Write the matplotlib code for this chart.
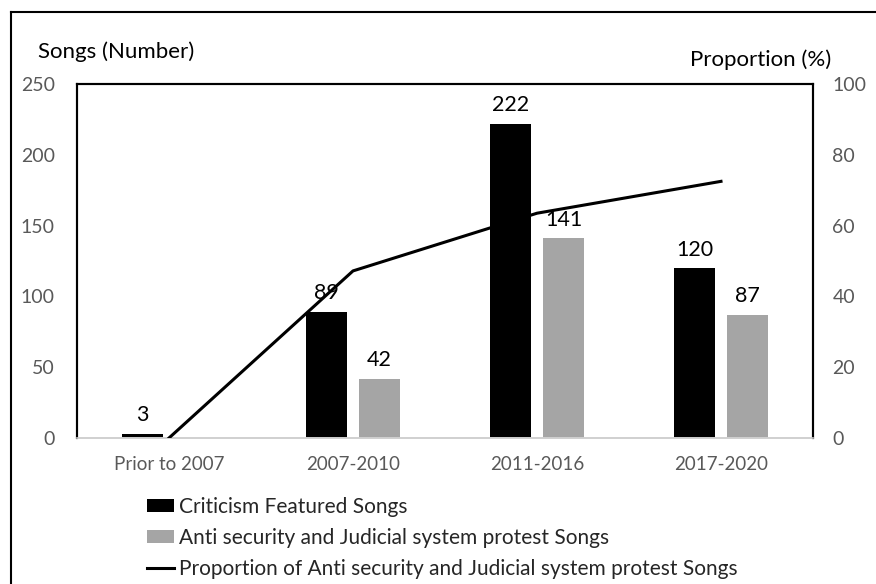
import numpy as np
import matplotlib
matplotlib.use('Agg')
import matplotlib.pyplot as plt
from matplotlib.lines import Line2D

plt.rcParams['font.family'] = ['Lato', 'DejaVu Sans']

periods = ['Prior to 2007', '2007-2010', '2011-2016', '2017-2020']
criticism = [3, 89, 222, 120]
anti_security = [0, 42, 141, 87]
proportion = [0, 47.2, 63.5, 72.5]

crit_labels = ['3', '89', '222', '120']
anti_labels = ['', '42', '141', '87']

fig = plt.figure(figsize=(8.76, 5.84), dpi=100)
W, H = 876, 584
ax = fig.add_axes([77/W, 1-438/H, (813-77)/W, (438-84)/H])
ax2 = ax.twinx()

x = np.arange(len(periods))
bw = 0.223
off = 0.144
ax.bar(x - off, criticism, bw, color='black', label='Criticism Featured Songs', zorder=2)
ax.bar(x + off, anti_security, bw, color='#a5a5a5', label='Anti security and Judicial system protest Songs', zorder=2)

for xi, v, t in zip(x, criticism, crit_labels):
    ax.annotate(t, (xi - off, v), xytext=(0, 9), textcoords='offset points',
                ha='center', va='baseline', fontsize=15.5, color='black')
for xi, v, t in zip(x, anti_security, anti_labels):
    if t:
        ax.annotate(t, (xi + off, v), xytext=(0, 9), textcoords='offset points',
                    ha='center', va='baseline', fontsize=15.5, color='black')

ax2.plot(x, proportion, color='black', lw=2.2,
         label='Proportion of Anti security and Judicial system protest Songs', zorder=3)

ax.set_xlim(-0.5, 3.5)
ax.set_ylim(0, 250)
ax2.set_ylim(0, 100)
ax.set_yticks([0, 50, 100, 150, 200, 250])
ax2.set_yticks([0, 20, 40, 60, 80, 100])
ax.set_xticks(x)
ax.set_xticklabels(periods)

for a in (ax, ax2):
    a.tick_params(length=0, labelsize=14, colors='#595959')
    for s in a.spines.values():
        s.set_color('black')
        s.set_linewidth(1.5)
    a.spines['bottom'].set_color('#d0d0d0')
    a.spines['bottom'].set_linewidth(1.2)
ax.tick_params(axis='x', pad=13, labelsize=13.5)
ax.tick_params(axis='y', pad=16)
ax2.tick_params(axis='y', pad=14)

ax.set_zorder(ax2.get_zorder() - 1)
ax.patch.set_visible(True)
ax2.patch.set_visible(False)

fig.text(38/W, 1-52/H, 'Songs (Number)', fontsize=16, color='black', ha='left', va='center')
fig.text(831/W, 1-60/H, 'Proportion (%)', fontsize=16, color='black', ha='right', va='center')

h1, l1 = ax.get_legend_handles_labels()
h2, l2 = ax2.get_legend_handles_labels()
leg = fig.legend(h1 + h2, l1 + l2, loc='upper left', bbox_to_anchor=(147/W, 1-497/H),
                 frameon=False, fontsize=15, handlelength=1.3, handleheight=0.62,
                 handletextpad=0.25, labelspacing=0.53, borderaxespad=0, borderpad=0)
for t in leg.get_texts():
    t.set_color('#262626')

fig.add_artist(Line2D([11/W, 1], [1-12/H, 1-12/H], color='black', lw=1.5, transform=fig.transFigure))
fig.add_artist(Line2D([11/W, 11/W], [0, 1-12/H], color='black', lw=1.5, transform=fig.transFigure))

fig.savefig('out.png', dpi=100)
